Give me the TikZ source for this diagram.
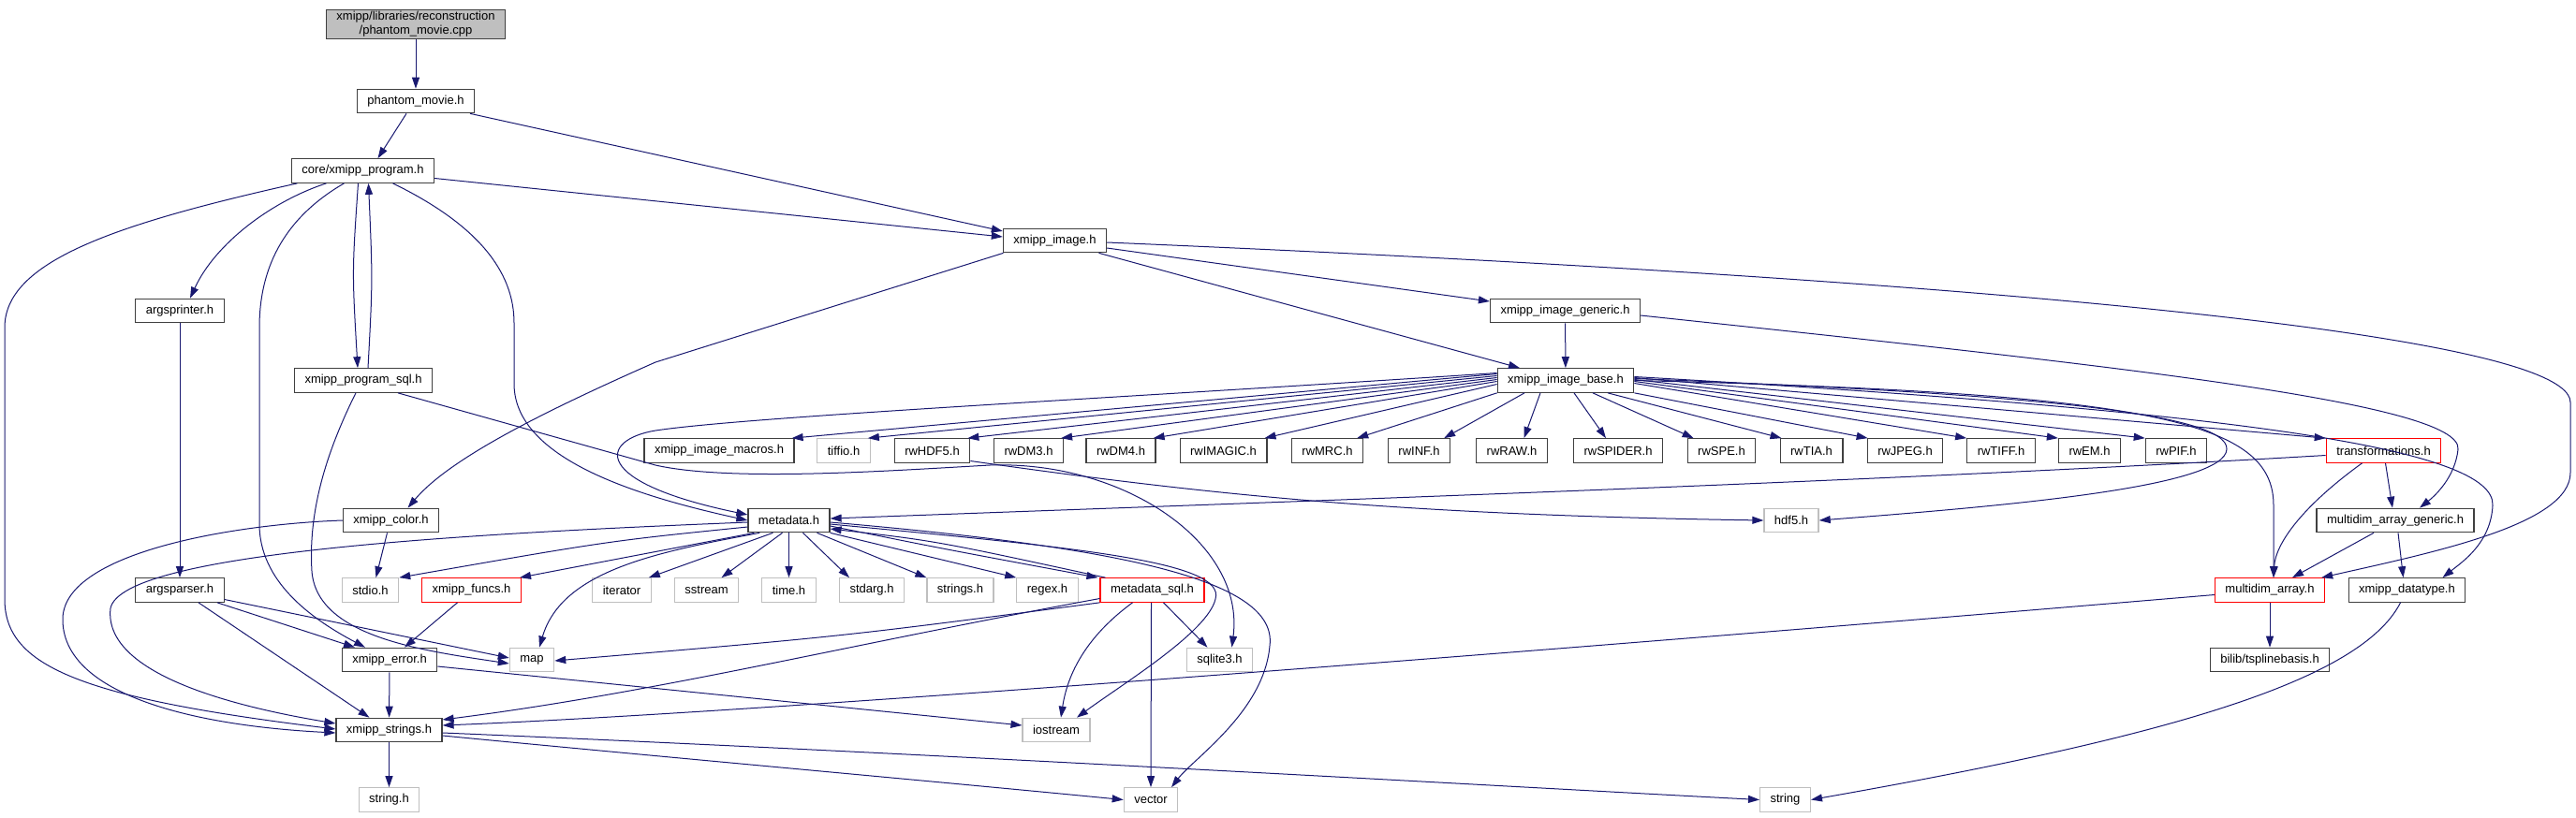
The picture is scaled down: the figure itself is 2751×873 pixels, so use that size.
\documentclass[tikz,border=0pt]{standalone}
\usepackage{fontspec}
\setmainfont{Liberation Sans}
\usetikzlibrary{arrows.meta}
\definecolor{edge}{HTML}{191970}
\definecolor{frame}{HTML}{404040}
\definecolor{sysgray}{HTML}{BFBFBF}
\definecolor{rootgray}{HTML}{BFBFBF}
\begin{document}
\begin{tikzpicture}[x=1pt,y=-1pt,
	hdr/.style={draw=frame,fill=white,line width=1.2pt,font=\fontsize{13}{15}\selectfont,inner xsep=11pt,inner ysep=0pt,minimum height=25.5pt},
	sys/.style={hdr,draw=sysgray},
	trunc/.style={hdr,draw=red},
	dep/.style={draw=edge,line width=1pt,-{Triangle[length=12pt,width=8pt]}}]

		\useasboundingbox (0,0) rectangle (2751,873);

		%Dateien oben
		\node[hdr,fill=rootgray,align=center,inner ysep=2pt] (root) at (444,26) {xmipp/libraries/reconstruction\\/phantom\_movie.cpp};
		\node[hdr] (pm) at (444,108) {phantom\_movie.h};
		\node[hdr] (prog) at (387.5,182.5) {core/xmipp\_program.h};
		\node[hdr] (img) at (1126.5,257) {xmipp\_image.h};
		\node[hdr] (argspr) at (192,332) {argsprinter.h};
		\node[hdr] (imggen) at (1671.5,332) {xmipp\_image\_generic.h};
		\node[hdr] (progsql) at (388,406.5) {xmipp\_program\_sql.h};
		\node[hdr] (imgbase) at (1672,406.5) {xmipp\_image\_base.h};

		%Reihe rw
		\node[hdr] (macros) at (768,481.5) {xmipp\_image\_macros.h};
		\node[sys] (tiffio) at (901,481.5) {tiffio.h};
		\node[hdr] (rwhdf) at (995.5,481.5) {rwHDF5.h};
		\node[hdr] (rwdm3) at (1098.5,481.5) {rwDM3.h};
		\node[hdr] (rwdm4) at (1197,481.5) {rwDM4.h};
		\node[hdr] (rwimagic) at (1306.5,481.5) {rwIMAGIC.h};
		\node[hdr] (rwmrc) at (1417.5,481.5) {rwMRC.h};
		\node[hdr] (rwinf) at (1515.5,481.5) {rwINF.h};
		\node[hdr] (rwraw) at (1614.5,481.5) {rwRAW.h};
		\node[hdr] (rwspider) at (1728,481.5) {rwSPIDER.h};
		\node[hdr] (rwspe) at (1838.5,481.5) {rwSPE.h};
		\node[hdr] (rwtia) at (1934.5,481.5) {rwTIA.h};
		\node[hdr] (rwjpeg) at (2034.5,481.5) {rwJPEG.h};
		\node[hdr] (rwtiff) at (2137,481.5) {rwTIFF.h};
		\node[hdr] (rwem) at (2231.5,481.5) {rwEM.h};
		\node[hdr] (rwpif) at (2324,481.5) {rwPIF.h};
		\node[trunc] (trafo) at (2545.5,481.5) {transformations.h};

		%Mitte
		\node[hdr] (color) at (417.5,556) {xmipp\_color.h};
		\node[hdr] (meta) at (842.5,556) {metadata.h};
		\node[sys] (hdf5) at (1913,556) {hdf5.h};
		\node[hdr] (mdgen) at (2558,556) {multidim\_array\_generic.h};

		\node[hdr] (argspar) at (192,630.5) {argsparser.h};
		\node[sys] (stdio) at (395.5,630.5) {stdio.h};
		\node[trunc] (funcs) at (503.5,630.5) {xmipp\_funcs.h};
		\node[sys] (iterator) at (664,630.5) {iterator};
		\node[sys] (sstream) at (754.5,630.5) {sstream};
		\node[sys] (timeh) at (842.5,630.5) {time.h};
		\node[sys] (stdarg) at (931,630.5) {stdarg.h};
		\node[sys] (stringsh) at (1025.5,630.5) {strings.h};
		\node[sys] (regex) at (1118.5,630.5) {regex.h};
		\node[trunc] (mdsql) at (1230.5,630.5) {metadata\_sql.h};
		\node[trunc] (mdarr) at (2424,630.5) {multidim\_array.h};
		\node[hdr] (dtype) at (2570.5,630.5) {xmipp\_datatype.h};

		%unten
		\node[hdr] (err) at (416,705) {xmipp\_error.h};
		\node[sys] (map) at (568,705) {map};
		\node[sys] (sqlite) at (1302.5,705) {sqlite3.h};
		\node[hdr] (bilib) at (2424,705) {bilib/tsplinebasis.h};
		\node[hdr] (strs) at (415.5,780) {xmipp\_strings.h};
		\node[sys] (iostream) at (1128,780) {iostream};
		\node[sys] (stringh) at (415.5,854.5) {string.h};
		\node[sys] (vector) at (1229,854.5) {vector};
		\node[sys] (string) at (1906.5,854.5) {string};

		%Kanten Programm
		\draw[dep] (root) -- (pm);
		\draw[dep] ([xshift=-10pt]pm.south) -- ([xshift=16pt]prog.north);
		\draw[dep] ([xshift=58pt]pm.south) -- ([yshift=10pt]img.west);
		\draw[dep] ([yshift=-8pt]prog.east) -- ([yshift=4pt]img.west);
		\draw[dep] ([xshift=-39pt]prog.south) .. controls (290,215) and (230,260) .. ([xshift=11pt]argspr.north);
		\draw[dep] ([xshift=-5pt]prog.south) .. controls (376,290) .. ([xshift=-6pt]progsql.north);
		\draw[dep] ([xshift=5pt]progsql.north) .. controls (398,300) .. ([xshift=6pt]prog.south);
		\draw[dep] ([xshift=-70pt]prog.south) .. controls (120,240) and (5,280) .. (5,350) -- (5,640) .. controls (5,710) and (80,745) .. ([yshift=1pt]strs.west);
		\draw[dep] ([xshift=-20pt]prog.south) .. controls (300,235) and (277,290) .. (277,350) -- (277,560) .. controls (277,620) and (330,660) .. ([xshift=-26pt]err.north);
		\draw[dep] ([xshift=32pt]prog.south) .. controls (510,240) and (549,290) .. (549,345) -- (549,410) .. controls (549,490) and (680,530) .. (meta.west);
		\draw[dep] (argspr) -- (argspar);
		\draw[dep] ([xshift=40pt]argspar.south) -- ([xshift=-37pt]err.north);
		\draw[dep] ([xshift=20pt]argspar.south) -- ([xshift=-21pt]strs.north);
		\draw[dep] ([yshift=-10pt]argspar.east) -- ([yshift=2pt]map.west);
		\draw[dep] ([xshift=-8pt]progsql.south) .. controls (340,500) and (330,560) .. (333,610) .. controls (338,680) and (450,695) .. ([yshift=-4pt]map.west);
		\draw[dep] ([xshift=37pt]progsql.south) -- (700,497) .. controls (780,515) and (950,503) .. (1057,497) .. controls (1200,492) and (1330,580) .. ([xshift=13pt]sqlite.north);

		%Kanten Bild
		\draw[dep] ([yshift=-8pt]img.east) -- ([yshift=10pt]imggen.west);
		\draw[dep] ([xshift=47pt]img.south) -- ([xshift=-49pt]imgbase.north);
		\draw[dep] ([xshift=-55pt]img.south) -- (700,387) .. controls (580,440) and (480,490) .. ([xshift=18pt]color.north);
		\draw[dep] ([yshift=-2pt]img.east) .. controls (1800,285) and (2745,340) .. (2745,430) -- (2745,505) .. controls (2745,560) and (2600,590) .. ([xshift=-4pt]mdarr.north east);
		\draw[dep] (imggen) -- (imgbase);
		\draw[dep] ([yshift=-5pt]imggen.east) .. controls (2250,390) and (2630,430) .. (2625,480) .. controls (2622,510) and (2600,530) .. ([xshift=26pt]mdgen.north);

		%xmipp_image_base
		\foreach \n/\s in {macros/7,tiffio/5,rwhdf/3,rwdm3/1,rwdm4/-1,rwimagic/-4}
			\draw[dep] ([yshift=\s pt]imgbase.west) -- ([xshift=-3pt]\n.north east);
		\draw[dep] (imgbase.south west) -- ([xshift=-7pt]rwmrc.north east);
		\draw[dep] ([xshift=-44pt]imgbase.south) -- ([xshift=-7pt]rwinf.north east);
		\draw[dep] ([xshift=-27pt]imgbase.south) -- ([xshift=13pt]rwraw.north);
		\draw[dep] ([xshift=9pt]imgbase.south) -- ([xshift=-13pt]rwspider.north);
		\draw[dep] ([xshift=29pt]imgbase.south) -- ([xshift=7pt]rwspe.north west);
		\draw[dep] ([xshift=45pt]imgbase.south) -- ([xshift=2pt]rwtia.north west);
		\draw[dep] (imgbase.south east) -- ([xshift=1pt]rwjpeg.north west);
		\foreach \n/\s in {rwtiff/-3,rwem/-1,rwpif/1,trafo/3}
			\draw[dep] ([yshift=\s pt]imgbase.east) -- (\n.north west);
		\draw[dep] ([yshift=8pt]imgbase.west) .. controls (1200,425) and (800,445) .. (700,460) .. controls (640,470) and (630,515) .. ([yshift=6pt]meta.west);
		\draw[dep] ([yshift=2pt]imgbase.east) .. controls (2150,420) and (2380,440) .. (2378,480) .. controls (2376,520) and (2150,540) .. (hdf5.east);
		\draw[dep] (imgbase.east) .. controls (2300,420) and (2428,450) .. (2428,540) -- ([xshift=4pt]mdarr.north);
		\draw[dep] ([yshift=4pt]imgbase.east) .. controls (2400,440) and (2665,480) .. (2662,540) .. controls (2660,580) and (2630,600) .. ([xshift=38pt]dtype.north);
		\draw[dep] ([yshift=-11pt]rwhdf.east) .. controls (1300,530) and (1500,550) .. (hdf5.west);

		%rechts
		\draw[dep] ([yshift=-5pt]trafo.west) .. controls (2000,515) and (1400,535) .. ([yshift=2pt]meta.east);
		\draw[dep] ([xshift=2pt]trafo.south) -- ([xshift=-3pt]mdgen.north);
		\draw[dep] ([xshift=-23pt]trafo.south) .. controls (2460,540) and (2430,580) .. ([xshift=4pt]mdarr.north);
		\draw[dep] ([xshift=-23pt]mdgen.south) -- ([xshift=24pt]mdarr.north);
		\draw[dep] ([xshift=3pt]mdgen.south) -- ([xshift=-4pt]dtype.north);
		\draw[dep] (mdarr) -- (bilib);
		\draw[dep] ([yshift=-5pt]mdarr.west) .. controls (1600,700) and (800,762) .. ([yshift=5pt]strs.east);
		\draw[dep] ([xshift=-7pt]dtype.south) .. controls (2520,730) and (2300,790) .. (string.east);

		%metadata
		\draw[dep] ([yshift=-2pt]meta.west) .. controls (500,570) and (130,590) .. (118,650) .. controls (110,720) and (250,755) .. ([yshift=7pt]strs.west);
		\draw[dep] ([yshift=-7pt]meta.west) .. controls (650,578) .. (stdio.north east);
		\draw[dep] ([xshift=7pt]meta.south west) -- ([xshift=-2pt]funcs.north east);
		\draw[dep] ([xshift=13pt]meta.south west) .. controls (700,590) and (600,610) .. ([xshift=8pt]map.north);
		\draw[dep] ([xshift=27pt]meta.south west) -- ([xshift=-3pt]iterator.north east);
		\draw[dep] ([xshift=-7pt]meta.south) -- ([xshift=16pt]sstream.north);
		\draw[dep] (meta) -- (timeh);
		\draw[dep] ([xshift=15pt]meta.south) -- ([xshift=-24pt]stdarg.north);
		\draw[dep] ([xshift=30pt]meta.south) -- (stringsh.north west);
		\draw[dep] (meta.south east) -- (regex.north west);
		\draw[dep] ([yshift=-6pt]meta.east) .. controls (1000,585) .. ([xshift=-2pt]mdsql.north west);
		\draw[dep] ([xshift=6pt]mdsql.north west) .. controls (1000,578) .. ([yshift=-9pt]meta.east);
		\draw[dep] ([yshift=-4pt]meta.east) .. controls (1150,585) and (1310,600) .. (1298,640) .. controls (1290,675) and (1200,730) .. ([xshift=22pt]iostream.north);
		\draw[dep] ([yshift=-2pt]meta.east) .. controls (1200,585) and (1365,620) .. (1356,690) .. controls (1350,760) and (1275,810) .. ([xshift=22pt]vector.north);

		%metadata_sql
		\draw[dep] ([xshift=-21pt]mdsql.south) .. controls (1160,680) and (1140,720) .. ([xshift=5pt]iostream.north);
		\draw[dep] ([xshift=-1pt]mdsql.south) -- (vector.north);
		\draw[dep] ([xshift=12pt]mdsql.south) -- ([xshift=-13pt]sqlite.north);
		\draw[dep] (mdsql.south west) .. controls (900,680) .. ([yshift=-1pt]map.east);
		\draw[dep] ([yshift=-9pt]mdsql.west) .. controls (900,690) and (700,740) .. ([yshift=11pt]strs.east);

		%kleine Dateien
		\draw[dep] ([xshift=-15pt]funcs.south) -- ([xshift=16pt]err.north);
		\draw[dep] ([xshift=-4pt]color.south) -- ([xshift=6pt]stdio.north);
		\draw[dep] (color.west) .. controls (250,560) and (70,590) .. (67,660) .. controls (65,740) and (200,775) .. ([yshift=-3pt]strs.west);
		\draw[dep] (err) -- (strs);
		\draw[dep] ([yshift=-7pt]err.east) -- ([yshift=5pt]iostream.west);
		\draw[dep] (strs) -- (stringh);
		\draw[dep] ([yshift=-3pt]strs.east) .. controls (1000,805) and (1600,840) .. (string.west);
		\draw[dep] ([yshift=-6pt]strs.east) .. controls (700,808) and (1000,835) .. (vector.west);

\end{tikzpicture}
\end{document}
